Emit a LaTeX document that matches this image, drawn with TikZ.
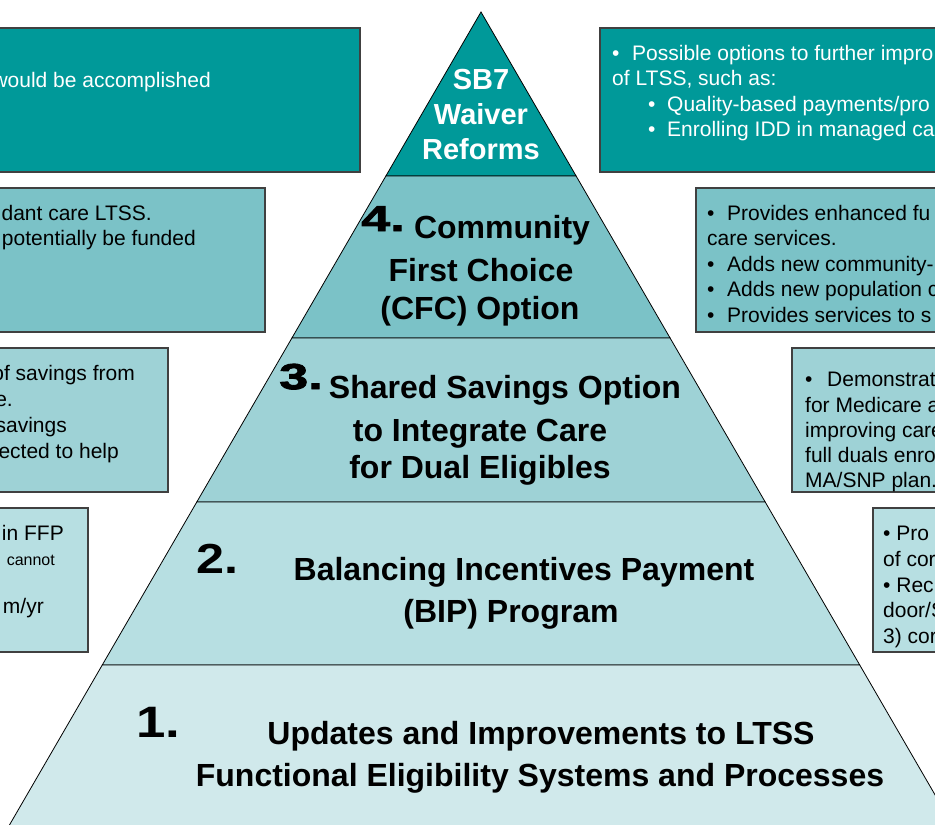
\documentclass[tikz,border=0pt]{standalone}
\usepackage{fontspec}
\setmainfont{Liberation Sans}
\newfontfamily\blackfont[FakeBold=2.5,FakeStretch=1.45]{Liberation Sans Bold}
\newfontfamily\widefont[FakeStretch=1.2]{Liberation Sans Bold}
\definecolor{tierfive}{HTML}{009999}
\definecolor{tierfour}{HTML}{7BC2C7}
\definecolor{tierthree}{HTML}{9ED2D6}
\definecolor{tiertwo}{HTML}{B7DFE2}
\definecolor{tierone}{HTML}{D0E9EB}
\begin{document}
\begin{tikzpicture}[x=1pt, y=-1pt,
	box/.style={draw=black!75, line width=1.1pt},
	note/.style={inner sep=0pt, font=\fontsize{21}{25.5}\selectfont},
	tier/.style={inner sep=0pt, anchor=base, font=\bfseries\fontsize{32}{40}\selectfont},
	num/.style={inner sep=0pt, anchor=base west, font=\widefont\fontsize{#1}{#1}\selectfont},
	heavynum/.style={inner sep=0pt, anchor=base west, font=\blackfont\fontsize{36}{36}\selectfont}]
	\useasboundingbox (0,0) rectangle (935,825);
	\foreach \t/\b/\c in {12/176/tierfive, 176/338/tierfour, 338/502/tierthree, 502/665/tiertwo, 665/840/tierone}
		\filldraw[fill=\c, draw=black, line width=0.8pt] ({481-0.58*(\t-12)},\t) -- ({481+0.58*(\t-12)},\t) -- ({481+0.58*(\b-12)},\b) -- ({481-0.58*(\b-12)},\b) -- cycle;
	\foreach \l/\r/\t/\c in {-10/360/28/tierfive, -10/265/188/tierfour, -10/168/348/tierthree, -10/88/508/tiertwo, 600/945/28/tierfive, 696/945/188/tierfour, 792/945/348/tierthree, 873/945/508/tiertwo}
		\draw[box, fill=\c] (\l,\t) rectangle (\r,{\t+144});

	\node[inner sep=0pt, align=center, text=white, font=\bfseries\fontsize{29}{35}\selectfont] (sbseven) at (481,115) {SB7\\Waiver\\Reforms};

	\node[heavynum] (nfour) at (361,231) {4.};
	\node[tier] (cfca) at (502,238) {Community};
	\node[tier] (cfcb) at (481,281) {First Choice};
	\node[tier] (cfcc) at (480,319) {(CFC) Option};
	\node[heavynum] (nthree) at (279,389) {3.};
	\node[tier] (ssoa) at (505,398) {Shared Savings Option};
	\node[tier] (ssob) at (480,441) {to Integrate Care};
	\node[tier] (ssoc) at (480,478) {for Dual Eligibles};
	\node[num=42] (ntwo) at (196,573) {2.};
	\node[tier] (bipa) at (524,580) {Balancing Incentives Payment};
	\node[tier] (bipb) at (511,622) {(BIP) Program};
	\node[num=44] (none) at (136,737) {1.};
	\node[tier] (ltssa) at (541,744) {Updates and Improvements to LTSS};
	\node[tier] (ltssb) at (540,786) {Functional Eligibility Systems and Processes};

	\node[note, anchor=base east, text=white] (lfive) at (211,87) {would be accomplished};
	\foreach \x/\y/\s [count=\i] in {152/220/{dant care LTSS.}, 196/245.5/{potentially be funded}}
		\node[note, anchor=base east] (lfour\i) at (\x,\y) {\s};
	\foreach \x/\y/\s [count=\i] in {135/380/{of savings from}, 13/406/{e.}, 67/432/{savings}, 119/458/{ected to help}}
		\node[note, anchor=base east] (lthree\i) at (\x,\y) {\s};
	\node[note, anchor=base east] (ltwoa) at (64,540) {in FFP};
	\node[note, anchor=base east, font=\fontsize{16}{18}\selectfont] (ltwob) at (55,565) {cannot};
	\node[note, anchor=base east] (ltwoc) at (44,613) {m/yr};

	\foreach \x/\y/\s [count=\i] in {612/60/{\makebox[20pt][l]{•}Possible options to further impro}, 612/85.5/{of LTSS, such as:}, 648/111/{\makebox[19pt][l]{•}Quality-based payments/pro}, 648/136.5/{\makebox[19pt][l]{•}Enrolling IDD in managed ca}}
		\node[note, anchor=base west, text=white] (rfive\i) at (\x,\y) {\s};
	\foreach \y/\s [count=\i] in {220/{\makebox[20pt][l]{•}Provides enhanced fu}, 245.5/{care services.}, 271/{\makebox[20pt][l]{•}Adds new community-}, 296.5/{\makebox[20pt][l]{•}Adds new population c}, 322/{\makebox[20pt][l]{•}Provides services to s}}
		\node[note, anchor=base west] (rfour\i) at (707,\y) {\s};
	\foreach \y/\s [count=\i] in {386/{\makebox[22pt][l]{•}Demonstrat}, 412/{for Medicare a}, 437/{improving care}, 462/{full duals enro}, 487/{MA/SNP plan.}}
		\node[note, anchor=base west] (rthree\i) at (805,\y) {\s};
	\foreach \y/\s [count=\i] in {540/{• Pro}, 566/{of cor}, 592/{• Rec}, 617/{door/S}, 643/{3) cor}}
		\node[note, anchor=base west] (rtwo\i) at (883,\y) {\s};
\end{tikzpicture}
\end{document}
